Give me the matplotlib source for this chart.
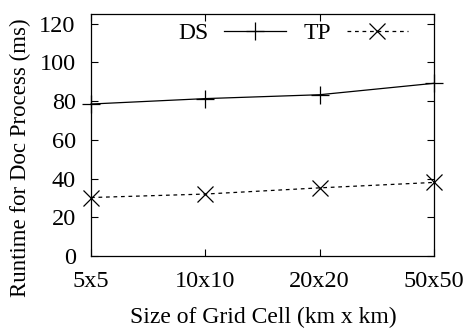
import matplotlib
matplotlib.use('Agg')
from matplotlib import pyplot as plt

grid_sizes = ['5x5', '10x10', '20x20', '50x50']
ds_runtime = [78.5, 81.3, 83.3, 89.2]
tp_runtime = [30.2, 32.0, 35.2, 38.0]

plt.rcParams['font.family'] = ['Liberation Serif', 'DejaVu Serif']

fig = plt.figure(figsize=(4.65, 3.28), dpi=100)
ax = fig.add_axes([91 / 465, 1 - 256 / 328, (434 - 91) / 465, (256 - 14) / 328])

x = list(range(len(grid_sizes)))
ax.plot(x, ds_runtime, color='black', linewidth=0.9, marker='+',
        markersize=13, markeredgewidth=0.9, label='DS', clip_on=False)
ax.plot(x, tp_runtime, color='black', linewidth=0.9, linestyle=(0, (3, 3)),
        marker='x', markersize=12, markeredgewidth=0.9, label='TP', clip_on=False)

ax.set_xlim(0, 3)
ax.set_ylim(0, 125)
ax.set_xticks(x)
ax.set_xticklabels(grid_sizes)
ax.set_yticks(range(0, 121, 20))
ax.tick_params(direction='in', length=5, width=0.8, labelsize=17.5,
               top=True, right=True)
ax.tick_params(axis='x', pad=11)
ax.tick_params(axis='y', pad=11)
for s in ax.spines.values():
    s.set_linewidth(0.9)

# axis titles placed like the original (y title sits a bit low)
fig.text(263 / 465, 1 - 317 / 328, 'Size of Grid Cell (km x km)',
         fontsize=17, ha='center', va='center')
fig.text(20 / 465, 1 - 158 / 328, 'Runtime for Doc Process (ms)',
         fontsize=16.5, ha='center', va='center', rotation=90)

ax.legend(loc='center', bbox_to_anchor=(0.59, 0.92), ncol=2,
          frameon=False, markerfirst=False, fontsize=17, handlelength=2.6,
          columnspacing=0.75, handletextpad=0.65)

fig.savefig('out.png', dpi=100)
